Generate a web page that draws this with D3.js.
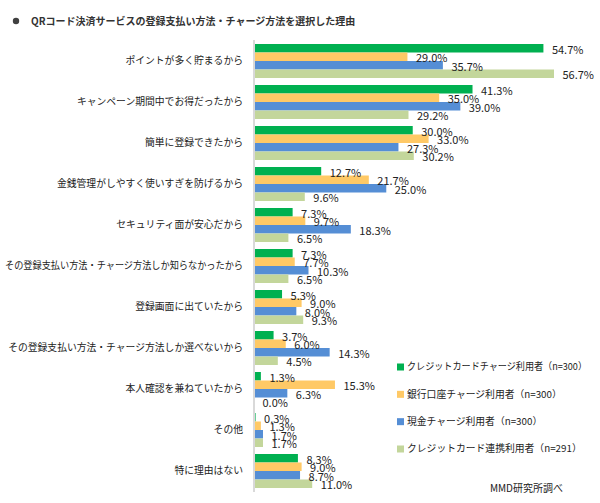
<!DOCTYPE html>
<html><head><meta charset="utf-8">
<script src="https://cdn.jsdelivr.net/npm/d3@7"></script>
<style>body{margin:0;background:#fff}svg{display:block}</style>
</head><body>
<svg id="c" width="600" height="503"></svg>
<script>
const title = "QRコード決済サービスの登録支払い方法・チャージ方法を選択した理由";
const categories = [
  "ポイントが多く貯まるから",
  "キャンペーン期間中でお得だったから",
  "簡単に登録できたから",
  "金銭管理がしやすく使いすぎを防げるから",
  "セキュリティ面が安心だから",
  "その登録支払い方法・チャージ方法しか知らなかったから",
  "登録画面に出ていたから",
  "その登録支払い方法・チャージ方法しか選べないから",
  "本人確認を兼ねていたから",
  "その他",
  "特に理由はない"
];
const seriesNames = [
  "クレジットカードチャージ利用者（n=300）",
  "銀行口座チャージ利用者（n=300）",
  "現金チャージ利用者（n=300）",
  "クレジットカード連携利用者（n=291）"
];
const creditCharge = [54.7, 41.3, 30.0, 12.7, 7.3, 7.3, 5.3, 3.7, 1.3, 0.3, 8.3];
const bankCharge   = [29.0, 35.0, 33.0, 21.7, 9.7, 7.7, 9.0, 6.0, 15.3, 1.3, 9.0];
const cashCharge   = [35.7, 39.0, 27.3, 25.0, 18.3, 10.3, 8.0, 14.3, 6.3, 1.7, 8.7];
const cardLinked   = [56.7, 29.2, 30.2, 9.6, 6.5, 6.5, 9.3, 4.5, 0.0, 1.7, 11.0];
const seriesValues = [creditCharge, bankCharge, cashCharge, cardLinked];
const colors = ["#00B050", "#FFC966", "#558ED5", "#C3D69B"];
const source = "MMD研究所調べ";

const svg = d3.select("#c");
const jp = "'Noto Sans CJK JP','Noto Sans',sans-serif";

// title
svg.append("circle").attr("cx", 16).attr("cy", 21).attr("r", 3.2).attr("fill", "#404040");
svg.append("text").attr("x", 31).attr("y", 25).attr("font-family", jp).attr("font-size", 10)
  .attr("font-weight", "bold").attr("fill", "#333").text(title);

const x0 = 254;
const x = d3.scaleLinear().domain([0, 56.7]).range([x0, 554]);
const y = d3.scaleBand().domain(categories).range([40.5, 491.5])
  .paddingInner(7/41).paddingOuter(3.5/41);
const ys = d3.scaleBand().domain(d3.range(4)).range([0, y.bandwidth()]);

const g = svg.append("g");
categories.forEach((c, i) => {
  const grp = g.append("g").attr("transform", `translate(0,${y(c)})`);
  seriesValues.forEach((vals, s) => {
    grp.append("rect").attr("x", x(0)).attr("y", ys(s))
      .attr("width", x(vals[i]) - x(0)).attr("height", ys.bandwidth())
      .attr("fill", colors[s]);
  });
  seriesValues.forEach((vals, s) => {
    grp.append("text").attr("x", x(vals[i]) + 8.5).attr("y", ys(s) + ys.bandwidth()/2 + 1.5)
      .attr("dy", "0.35em").attr("font-family", jp).attr("font-size", 11).attr("fill", "#222")
      .text(vals[i].toFixed(1) + "%");
  });
  const t = svg.append("text").attr("x", 243).attr("y", y(c) + y.bandwidth()/2)
    .attr("dy", "0.35em").attr("text-anchor", "end").attr("font-family", jp)
    .attr("font-size", 9.8).attr("fill", "#222").text(c);
  const w = t.node().getComputedTextLength();
  if (w > 238) t.attr("textLength", 238).attr("lengthAdjust", "spacingAndGlyphs");
});

// axis line
svg.append("line").attr("x1", x0).attr("x2", x0).attr("y1", 40).attr("y2", 492)
  .attr("stroke", "#d9d9d9").attr("stroke-width", 2);

// legend
const legY = d3.scalePoint().domain(d3.range(4)).range([367, 449]);
seriesNames.forEach((n, s) => {
  svg.append("rect").attr("x", 397).attr("y", legY(s) - 3.5).attr("width", 7).attr("height", 7).attr("fill", colors[s]);
  const t = svg.append("text").attr("x", 407).attr("y", legY(s)).attr("dy", "0.35em")
    .attr("font-family", jp).attr("font-size", 9.8).attr("fill", "#222").text(n);
  const w = t.node().getComputedTextLength();
  if (w > 180) t.attr("textLength", 180).attr("lengthAdjust", "spacingAndGlyphs");
});

svg.append("text").attr("x", 563).attr("y", 488).attr("dy", "0.35em").attr("text-anchor", "end")
  .attr("font-family", jp).attr("font-size", 10).attr("fill", "#222").text(source);
</script>
</body></html>
